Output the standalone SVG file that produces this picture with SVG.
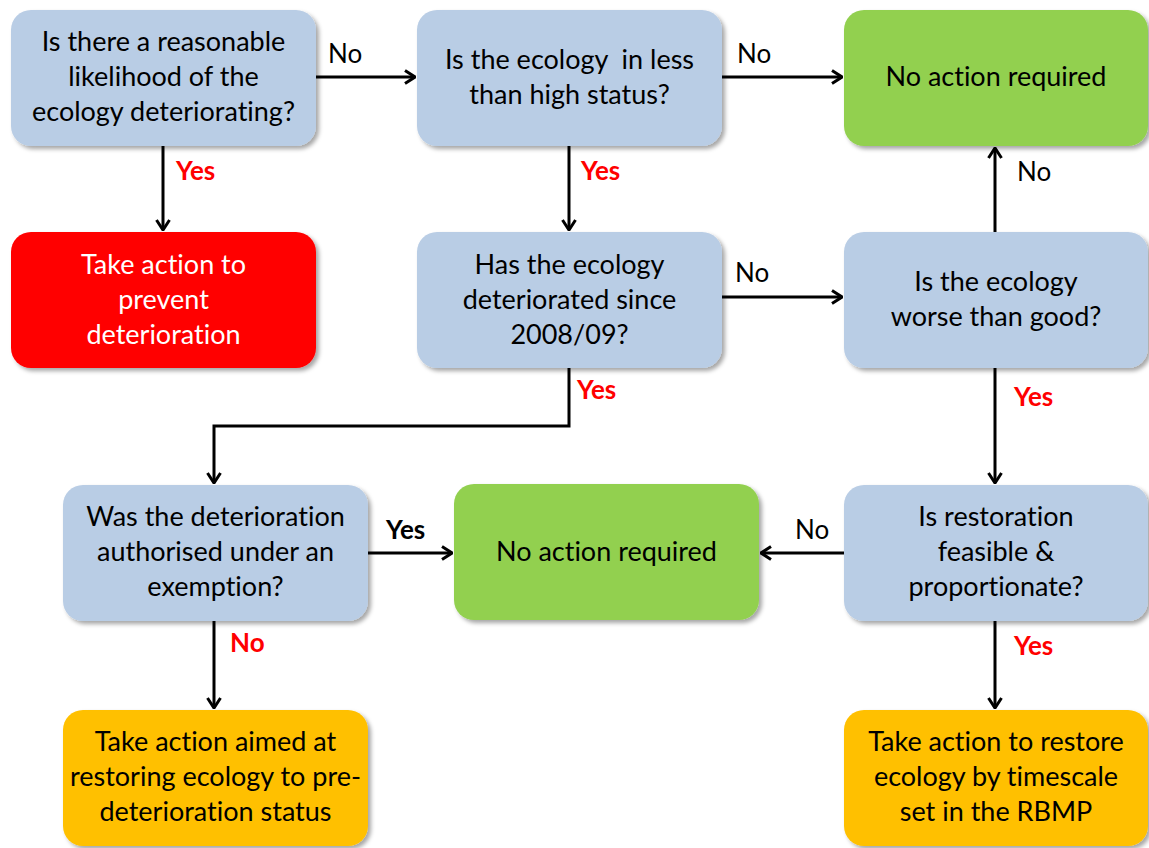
<svg xmlns="http://www.w3.org/2000/svg" width="1149" height="848" viewBox="0 0 1149 848">
<style>
.box{stroke:none}
.q{fill:#B9CDE5}
.g{fill:#92D050}
.r{fill:#FF0000}
.o{fill:#FFC000}
.t{font-family:Lato,"Open Sans","Liberation Sans",sans-serif;font-size:27px;fill:#000;text-anchor:middle;font-variant-ligatures:none}
.w{fill:#FFFFFF}
.lbl{font-family:Lato,"Open Sans","Liberation Sans",sans-serif;font-size:26px;fill:#000}
.yes{font-weight:bold;fill:#FF0000}
.yb{font-weight:bold;fill:#000}
.c{fill:none;stroke:#000;stroke-width:3}
</style>
<defs>
<filter id="sh" x="-10%" y="-10%" width="125%" height="130%">
<feDropShadow dx="3" dy="3" stdDeviation="2" flood-color="#000" flood-opacity="0.35"/>
</filter>
<marker id="ah" viewBox="0 0 12 16" refX="11" refY="8" markerWidth="12" markerHeight="16" markerUnits="userSpaceOnUse" orient="auto">
<path d="M1,1.5 L11,8 L1,14.5" fill="none" stroke="#000" stroke-width="3"/>
</marker>
</defs>
<g id="connectors">
<line class="c" x1="316" y1="77" x2="415" y2="77" marker-end="url(#ah)"/>
<line class="c" x1="722" y1="77" x2="842" y2="77" marker-end="url(#ah)"/>
<line class="c" x1="163" y1="146" x2="163" y2="230" marker-end="url(#ah)"/>
<line class="c" x1="569" y1="146" x2="569" y2="230" marker-end="url(#ah)"/>
<line class="c" x1="722" y1="297" x2="842" y2="297" marker-end="url(#ah)"/>
<line class="c" x1="995" y1="232" x2="995" y2="148" marker-end="url(#ah)"/>
<polyline class="c" points="569,368 569,426 214,426 214,483" marker-end="url(#ah)"/>
<line class="c" x1="995" y1="368" x2="995" y2="483" marker-end="url(#ah)"/>
<line class="c" x1="368" y1="553" x2="452" y2="553" marker-end="url(#ah)"/>
<line class="c" x1="844" y1="553" x2="761" y2="553" marker-end="url(#ah)"/>
<line class="c" x1="214" y1="621" x2="214" y2="708" marker-end="url(#ah)"/>
<line class="c" x1="995" y1="621" x2="995" y2="708" marker-end="url(#ah)"/>
<text class="lbl" x="328" y="63">No</text>
<text class="lbl yes" x="176" y="180">Yes</text>
<text class="lbl" x="737" y="63">No</text>
<text class="lbl yes" x="581" y="180">Yes</text>
<text class="lbl" x="735" y="282">No</text>
<text class="lbl" x="1017" y="181">No</text>
<text class="lbl yes" x="577" y="399">Yes</text>
<text class="lbl yes" x="1014" y="406">Yes</text>
<text class="lbl yb" x="386" y="539">Yes</text>
<text class="lbl" x="795" y="539">No</text>
<text class="lbl yes" x="230" y="652">No</text>
<text class="lbl yes" x="1014" y="655">Yes</text>
</g>
<g id="n1"><rect class="box q" filter="url(#sh)" x="11" y="10" width="305" height="136" rx="20"/>
<text class="t" x="163.5" y="51">Is there a reasonable</text><text class="t" x="163.5" y="86">likelihood of the</text><text class="t" x="163.5" y="121">ecology deteriorating?</text></g>
<g id="n2"><rect class="box q" filter="url(#sh)" x="417" y="10" width="305" height="136" rx="20"/>
<text class="t" x="569.5" y="69" xml:space="preserve">Is the ecology  in less</text><text class="t" x="569.5" y="104">than high status?</text></g>
<g id="n3"><rect class="box g" filter="url(#sh)" x="844" y="10" width="304" height="136" rx="20"/>
<text class="t" x="996" y="86">No action required</text></g>
<g id="n4"><rect class="box r" filter="url(#sh)" x="11" y="232" width="305" height="136" rx="20"/>
<text class="t w" x="163.5" y="274">Take action to</text><text class="t w" x="163.5" y="309">prevent</text><text class="t w" x="163.5" y="344">deterioration</text></g>
<g id="n5"><rect class="box q" filter="url(#sh)" x="417" y="232" width="305" height="136" rx="20"/>
<text class="t" x="569.5" y="274">Has the ecology</text><text class="t" x="569.5" y="309">deteriorated since</text><text class="t" x="569.5" y="344">2008/09?</text></g>
<g id="n6"><rect class="box q" filter="url(#sh)" x="844" y="232" width="304" height="136" rx="20"/>
<text class="t" x="996" y="291">Is the ecology</text><text class="t" x="996" y="326">worse than good?</text></g>
<g id="n7"><rect class="box q" filter="url(#sh)" x="63" y="485" width="305" height="136" rx="20"/>
<text class="t" x="215.5" y="526">Was the deterioration</text><text class="t" x="215.5" y="561">authorised under an</text><text class="t" x="215.5" y="596">exemption?</text></g>
<g id="n8"><rect class="box g" filter="url(#sh)" x="454" y="484" width="305" height="136" rx="20"/>
<text class="t" x="606.5" y="561">No action required</text></g>
<g id="n9"><rect class="box q" filter="url(#sh)" x="844" y="485" width="304" height="136" rx="20"/>
<text class="t" x="996" y="526">Is restoration</text><text class="t" x="996" y="561">feasible &amp;</text><text class="t" x="996" y="596">proportionate?</text></g>
<g id="n10"><rect class="box o" filter="url(#sh)" x="63" y="710" width="305" height="136" rx="20"/>
<text class="t" x="215.5" y="751">Take action aimed at</text><text class="t" x="215.5" y="786">restoring ecology to pre-</text><text class="t" x="215.5" y="821">deterioration status</text></g>
<g id="n11"><rect class="box o" filter="url(#sh)" x="844" y="710" width="304" height="136" rx="20"/>
<text class="t" x="996" y="751">Take action to restore</text><text class="t" x="996" y="786">ecology by timescale</text><text class="t" x="996" y="821">set in the RBMP</text></g>
</svg>
